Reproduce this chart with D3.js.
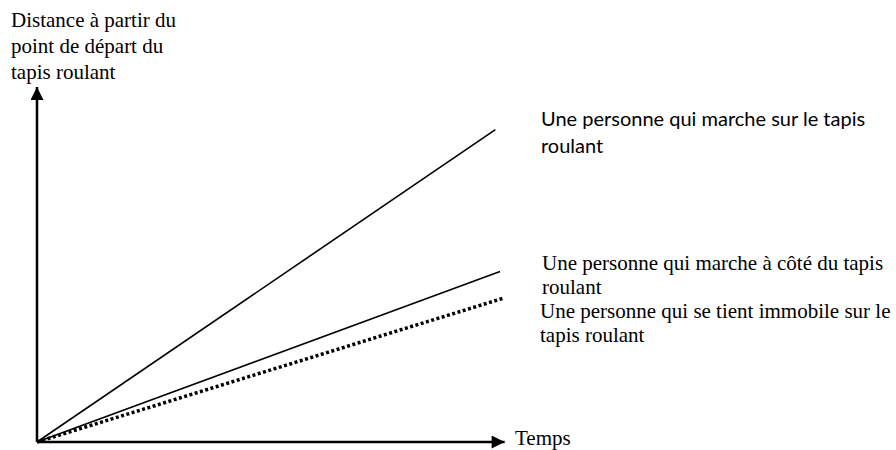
<!DOCTYPE html>
<html>
<head>
<meta charset="utf-8">
<script src="https://cdn.jsdelivr.net/npm/d3@7"></script>
<style>
  body { margin: 0; background: #fff; }
  svg { display: block; }
</style>
</head>
<body>
<div id="vis"></div>
<script>
// series: end point of each straight line (they all start at the origin)
const seriesNames = ['marche sur le tapis', 'marche à côté', 'immobile sur le tapis']
const seriesTime = [9.9, 10, 10.07]
const seriesDist = [8.8, 4.8, 4.05]
const seriesDashed = [false, false, true]

const yTitle = ['Distance à partir du', 'point de départ du', 'tapis roulant']
const xTitle = 'Temps'

const w = 896, h = 450

const x = d3.scaleLinear().domain([0, 10]).range([37, 500])
const y = d3.scaleLinear().domain([0, 10]).range([442, 87])

const svg = d3.select('#vis').append('svg')
  .attr('width', w)
  .attr('height', h)

const defs = svg.append('defs')
defs.append('marker')
  .attr('id', 'arrow')
  .attr('viewBox', '0 0 10 10')
  .attr('refX', 10)
  .attr('refY', 5)
  .attr('markerUnits', 'userSpaceOnUse')
  .attr('markerWidth', 16)
  .attr('markerHeight', 13)
  .attr('orient', 'auto')
  .append('path')
  .attr('d', 'M0,0 L10,5 L0,10 Z')
  .attr('fill', '#000')

// axes (arrows)
svg.append('line')
  .attr('x1', x(0)).attr('y1', y(0))
  .attr('x2', x(10.1)).attr('y2', y(0))
  .attr('stroke', '#000').attr('stroke-width', 2.5)
  .attr('marker-end', 'url(#arrow)')

svg.append('line')
  .attr('x1', x(0)).attr('y1', y(0))
  .attr('x2', x(0)).attr('y2', y(10))
  .attr('stroke', '#000').attr('stroke-width', 2.5)
  .attr('marker-end', 'url(#arrow)')

// the three lines
const line = d3.line().x(d => x(d[0])).y(d => y(d[1]))

svg.selectAll('path.serie')
  .data(seriesNames)
  .enter()
  .append('path')
  .attr('class', 'serie')
  .attr('d', (d, i) => line([[0, 0], [seriesTime[i], seriesDist[i]]]))
  .attr('fill', 'none')
  .attr('stroke', '#000')
  .attr('stroke-width', (d, i) => seriesDashed[i] ? 3.5 : 1.6)
  .attr('stroke-dasharray', (d, i) => seriesDashed[i] ? '3,2.5' : null)

// axis titles
const serif = '"Liberation Serif", "DejaVu Serif", serif'

svg.append('g')
  .selectAll('text')
  .data(yTitle)
  .enter()
  .append('text')
  .attr('x', 11)
  .attr('y', (d, i) => 27 + i * 26)
  .style('font-family', serif)
  .style('font-size', '21px')
  .text(d => d)

svg.append('text')
  .attr('x', 515)
  .attr('y', 445)
  .style('font-family', serif)
  .style('font-size', '21px')
  .text(xTitle)

// line labels
const labels = [
  { lines: ['Une personne qui marche sur le tapis', 'roulant'], x: 541, y: 126, dy: 27, font: 'Lato, "Open Sans", sans-serif', size: 20 },
  { lines: ['Une personne qui marche à côté du tapis', 'roulant'], x: 542, y: 270, dy: 24, font: serif, size: 21 },
  { lines: ['Une personne qui se tient immobile sur le', 'tapis roulant'], x: 540, y: 318, dy: 24, font: serif, size: 21 }
]

labels.forEach(lab => {
  svg.append('g')
    .selectAll('text')
    .data(lab.lines)
    .enter()
    .append('text')
    .attr('x', lab.x)
    .attr('y', (d, i) => lab.y + i * lab.dy)
    .style('font-family', lab.font)
    .style('font-size', lab.size + 'px')
    .text(d => d)
})
</script>
</body>
</html>
